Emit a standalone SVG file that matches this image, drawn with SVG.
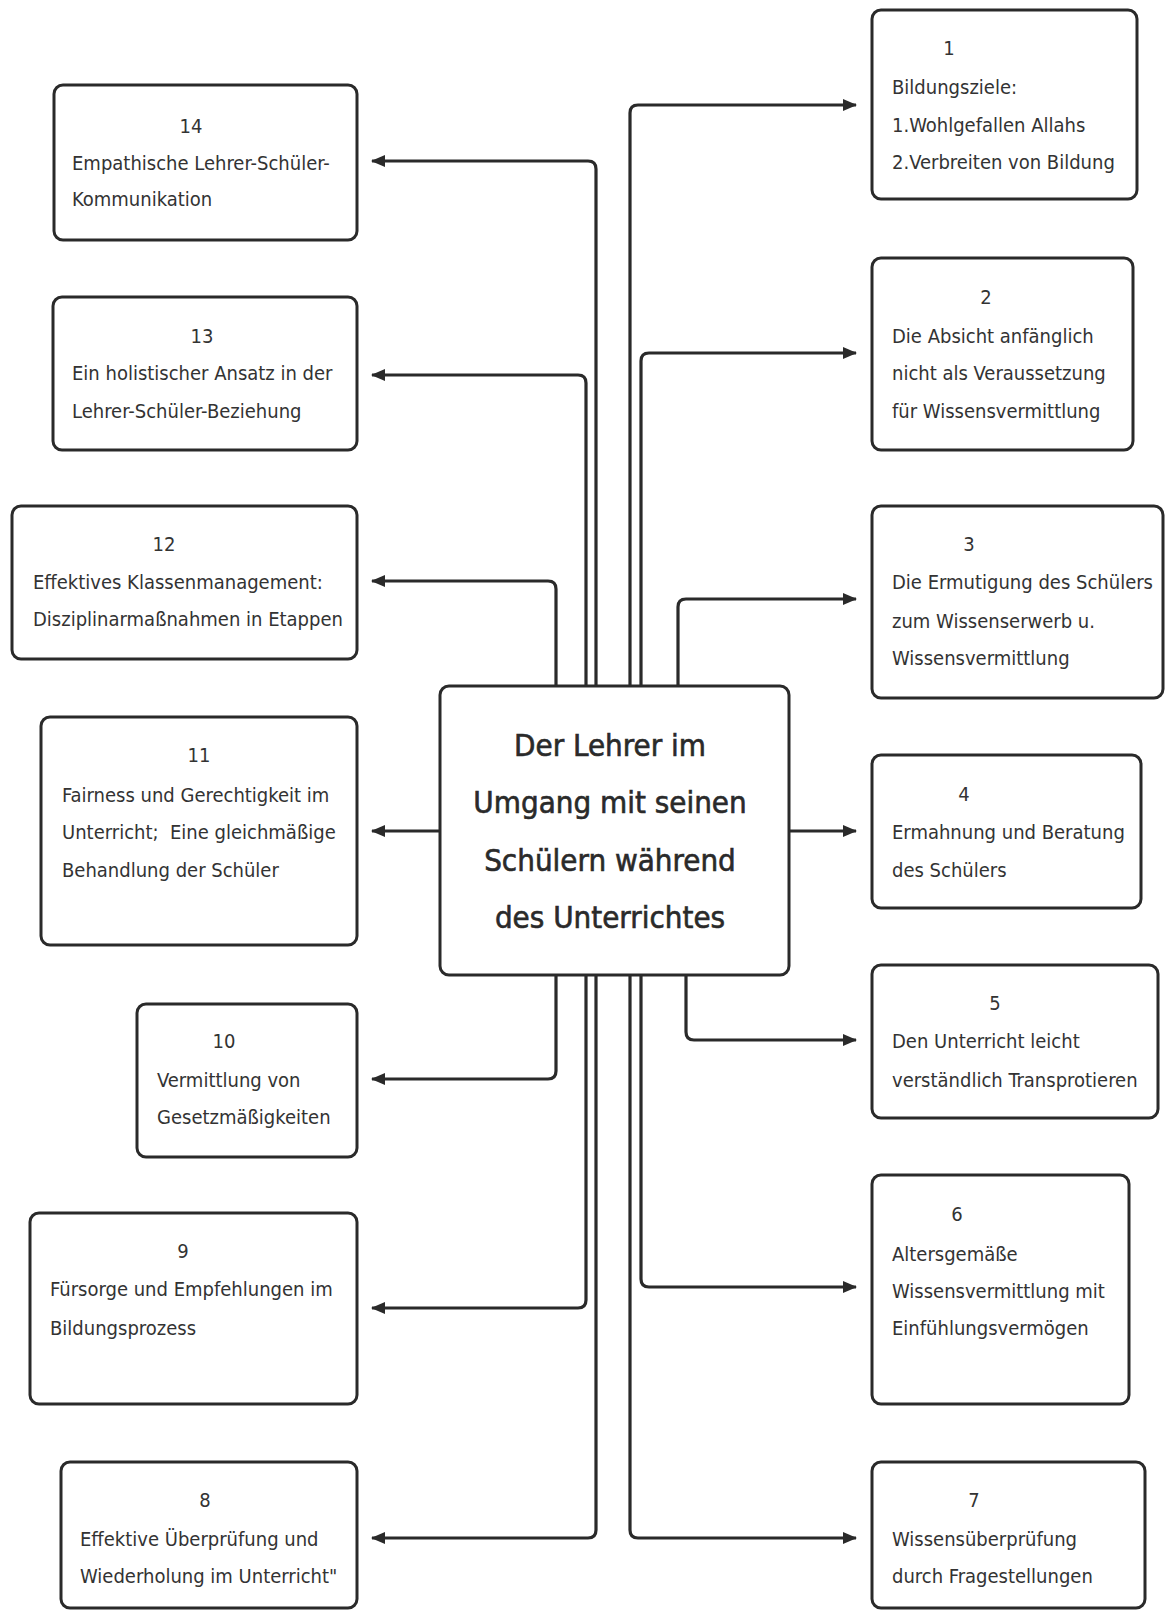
<svg xmlns="http://www.w3.org/2000/svg" width="1166" height="1611" viewBox="0 0 1166 1611">
<defs>
<style>
.box{fill:#fff;stroke:#2a2a2a;stroke-width:3}
.t{font-family:"DejaVu Sans Condensed","Liberation Sans",sans-serif;font-size:20px;fill:#333}
.n{text-anchor:middle}
.c{font-family:"DejaVu Sans Condensed","Liberation Sans",sans-serif;font-size:31px;fill:#2a2a2a;stroke:#2a2a2a;stroke-width:0.6;text-anchor:middle}
.ln{fill:none;stroke:#2a2a2a;stroke-width:3.2}
</style>
<marker id="ah" viewBox="0 0 14 12" refX="13" refY="6" markerWidth="14" markerHeight="12" markerUnits="userSpaceOnUse" orient="auto">
<path d="M0,0 L14,6 L0,12 z" fill="#2a2a2a"/>
</marker>
</defs>
<rect width="1166" height="1611" fill="#fff"/>

<g id="connectors">
<path class="ln" marker-end="url(#ah)" d="M596,686 V169 Q596,161 588,161 H372"/>
<path class="ln" marker-end="url(#ah)" d="M586,686 V383 Q586,375 578,375 H372"/>
<path class="ln" marker-end="url(#ah)" d="M556,686 V589 Q556,581 548,581 H372"/>
<path class="ln" marker-end="url(#ah)" d="M440,831 H372"/>
<path class="ln" marker-end="url(#ah)" d="M556,975 V1071 Q556,1079 548,1079 H372"/>
<path class="ln" marker-end="url(#ah)" d="M586,975 V1300 Q586,1308 578,1308 H372"/>
<path class="ln" marker-end="url(#ah)" d="M596,975 V1530 Q596,1538 588,1538 H372"/>
<path class="ln" marker-end="url(#ah)" d="M630,686 V113 Q630,105 638,105 H856"/>
<path class="ln" marker-end="url(#ah)" d="M641,686 V361 Q641,353 649,353 H856"/>
<path class="ln" marker-end="url(#ah)" d="M678,686 V607 Q678,599 686,599 H856"/>
<path class="ln" marker-end="url(#ah)" d="M789,831 H856"/>
<path class="ln" marker-end="url(#ah)" d="M686,975 V1032 Q686,1040 694,1040 H856"/>
<path class="ln" marker-end="url(#ah)" d="M641,975 V1279 Q641,1287 649,1287 H856"/>
<path class="ln" marker-end="url(#ah)" d="M630,975 V1530 Q630,1538 638,1538 H856"/>
</g>

<g id="center">
<rect class="box" x="440" y="686" width="349" height="289" rx="9"/>
<text class="c" x="610" y="756">Der Lehrer im</text>
<text class="c" x="610" y="813">Umgang mit seinen</text>
<text class="c" x="610" y="871">Schülern während</text>
<text class="c" x="610" y="928">des Unterrichtes</text>
</g>

<g id="node14">
<rect class="box" x="54" y="85" width="303" height="155" rx="9"/>
<text class="t n" x="191" y="133">14</text>
<text class="t" x="72" y="170">Empathische Lehrer-Schüler-</text>
<text class="t" x="72" y="206">Kommunikation</text>
</g>
<g id="node13">
<rect class="box" x="53" y="297" width="304" height="153" rx="9"/>
<text class="t n" x="202" y="343">13</text>
<text class="t" x="72" y="380">Ein holistischer Ansatz in der</text>
<text class="t" x="72" y="418">Lehrer-Schüler-Beziehung</text>
</g>
<g id="node12">
<rect class="box" x="12" y="506" width="345" height="153" rx="9"/>
<text class="t n" x="164" y="551">12</text>
<text class="t" x="33" y="589">Effektives Klassenmanagement:</text>
<text class="t" x="33" y="626">Disziplinarmaßnahmen in Etappen</text>
</g>
<g id="node11">
<rect class="box" x="41" y="717" width="316" height="228" rx="9"/>
<text class="t n" x="199" y="762">11</text>
<text class="t" x="62" y="802">Fairness und Gerechtigkeit im</text>
<text class="t" x="62" y="839" xml:space="preserve">Unterricht;  Eine gleichmäßige</text>
<text class="t" x="62" y="877">Behandlung der Schüler</text>
</g>
<g id="node10">
<rect class="box" x="137" y="1004" width="220" height="153" rx="9"/>
<text class="t n" x="224" y="1048">10</text>
<text class="t" x="157" y="1087">Vermittlung von</text>
<text class="t" x="157" y="1124">Gesetzmäßigkeiten</text>
</g>
<g id="node9">
<rect class="box" x="30" y="1213" width="327" height="191" rx="9"/>
<text class="t n" x="183" y="1258">9</text>
<text class="t" x="50" y="1296">Fürsorge und Empfehlungen im</text>
<text class="t" x="50" y="1335">Bildungsprozess</text>
</g>
<g id="node8">
<rect class="box" x="61" y="1462" width="296" height="146" rx="9"/>
<text class="t n" x="205" y="1507">8</text>
<text class="t" x="80" y="1546">Effektive Überprüfung und</text>
<text class="t" x="80" y="1583">Wiederholung im Unterricht"</text>
</g>

<g id="node1">
<rect class="box" x="872" y="10" width="265" height="189" rx="9"/>
<text class="t n" x="949" y="55">1</text>
<text class="t" x="892" y="94">Bildungsziele:</text>
<text class="t" x="892" y="132">1.Wohlgefallen Allahs</text>
<text class="t" x="892" y="169">2.Verbreiten von Bildung</text>
</g>
<g id="node2">
<rect class="box" x="872" y="258" width="261" height="192" rx="9"/>
<text class="t n" x="986" y="304">2</text>
<text class="t" x="892" y="343">Die Absicht anfänglich</text>
<text class="t" x="892" y="380">nicht als Veraussetzung</text>
<text class="t" x="892" y="418">für Wissensvermittlung</text>
</g>
<g id="node3">
<rect class="box" x="872" y="506" width="291" height="192" rx="9"/>
<text class="t n" x="969" y="551">3</text>
<text class="t" x="892" y="589">Die Ermutigung des Schülers</text>
<text class="t" x="892" y="628">zum Wissenserwerb u.</text>
<text class="t" x="892" y="665">Wissensvermittlung</text>
</g>
<g id="node4">
<rect class="box" x="872" y="755" width="269" height="153" rx="9"/>
<text class="t n" x="964" y="801">4</text>
<text class="t" x="892" y="839">Ermahnung und Beratung</text>
<text class="t" x="892" y="877">des Schülers</text>
</g>
<g id="node5">
<rect class="box" x="872" y="965" width="286" height="153" rx="9"/>
<text class="t n" x="995" y="1010">5</text>
<text class="t" x="892" y="1048">Den Unterricht leicht</text>
<text class="t" x="892" y="1087">verständlich Transprotieren</text>
</g>
<g id="node6">
<rect class="box" x="872" y="1175" width="257" height="229" rx="9"/>
<text class="t n" x="957" y="1221">6</text>
<text class="t" x="892" y="1261">Altersgemäße</text>
<text class="t" x="892" y="1298">Wissensvermittlung mit</text>
<text class="t" x="892" y="1335">Einfühlungsvermögen</text>
</g>
<g id="node7">
<rect class="box" x="872" y="1462" width="273" height="146" rx="9"/>
<text class="t n" x="974" y="1507">7</text>
<text class="t" x="892" y="1546">Wissensüberprüfung</text>
<text class="t" x="892" y="1583">durch Fragestellungen</text>
</g>
</svg>
